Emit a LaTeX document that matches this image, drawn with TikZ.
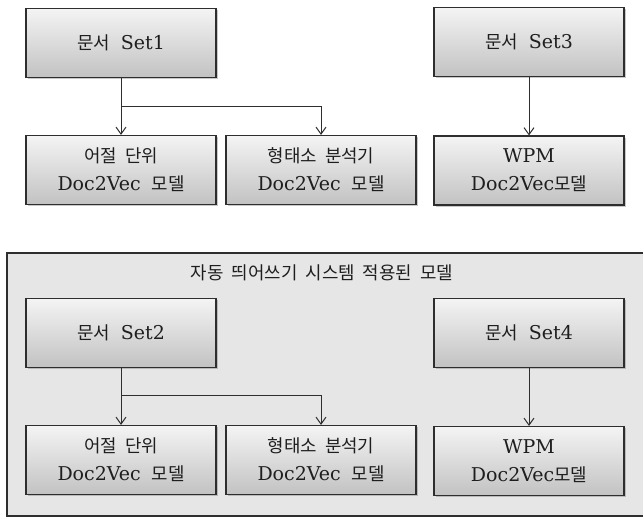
\documentclass[tikz,border=0pt]{standalone}
\usepackage{fontspec}
\setmainfont{DejaVu Serif}[WordSpace=1.8]
\newfontfamily\kr{Noto Sans CJK KR}[Scale=0.94,WordSpace=2.0]
\usetikzlibrary{arrows.meta,shadows}
\definecolor{boxtop}{HTML}{F4F4F4}
\definecolor{boxbot}{HTML}{C2C2C2}
\definecolor{panelfill}{HTML}{E6E6E6}
\definecolor{edge}{HTML}{2E2E2E}
\definecolor{txt}{HTML}{1E1E1E}
\tikzset{
  boxnode/.style={rectangle, draw=edge, line width=1.1pt, top color=boxtop, bottom color=boxbot,
    minimum width=190pt, minimum height=69pt, inner sep=0pt, align=center, text=txt,
    font=\fontsize{19}{28}\selectfont,
    drop shadow={shadow xshift=2pt, shadow yshift=-2pt, opacity=0.35, fill=black!60}},
  arr/.style={draw=edge, line width=1pt, -{Straight Barb[length=7pt,width=10pt,line width=1pt]}},
  panel/.style={draw=edge, line width=1.1pt, fill=panelfill}
}
\begin{document}
\begin{tikzpicture}[x=1pt,y=-1pt]
\useasboundingbox (0,0) rectangle (643,518);
\fill[white] (0,0) rectangle (643,518);
% lower panel
\draw[panel] (7,253) rectangle (648,516);
\node[text=txt, font=\fontsize{19}{24}\selectfont] (title) at (322,273) {{\kr 자동 띄어쓰기 시스템 적용된 모델}};
% top group
\node[boxnode] (s1) at (121,43) {{\kr 문서} Set1};
\node[boxnode] (a1) at (121,170) {{\kr 어절 단위}\\Doc2Vec {\kr 모델}};
\node[boxnode] (b1) at (321,170) {{\kr 형태소 분석기}\\Doc2Vec {\kr 모델}};
\node[boxnode] (s3) at (529,42) {{\kr 문서} Set3};
\node[boxnode] (w3) at (529,170.5) {WPM\\Doc2Vec{\kr 모델}};
\coordinate (j1) at (121,107);
\draw[arr] (s1.south) -- (a1.north);
\draw[arr] (j1) -| (b1.north);
\draw[arr] (s3.south) -- (w3.north);
% bottom group
\node[boxnode] (s2) at (121,333) {{\kr 문서} Set2};
\node[boxnode] (a2) at (121,460) {{\kr 어절 단위}\\Doc2Vec {\kr 모델}};
\node[boxnode] (b2) at (321,460) {{\kr 형태소 분석기}\\Doc2Vec {\kr 모델}};
\node[boxnode] (s4) at (529,333) {{\kr 문서} Set4};
\node[boxnode] (w4) at (529,461) {WPM\\Doc2Vec{\kr 모델}};
\coordinate (j2) at (121,396);
\draw[arr] (s2.south) -- (a2.north);
\draw[arr] (j2) -| (b2.north);
\draw[arr] (s4.south) -- (w4.north);
\end{tikzpicture}
\end{document}
